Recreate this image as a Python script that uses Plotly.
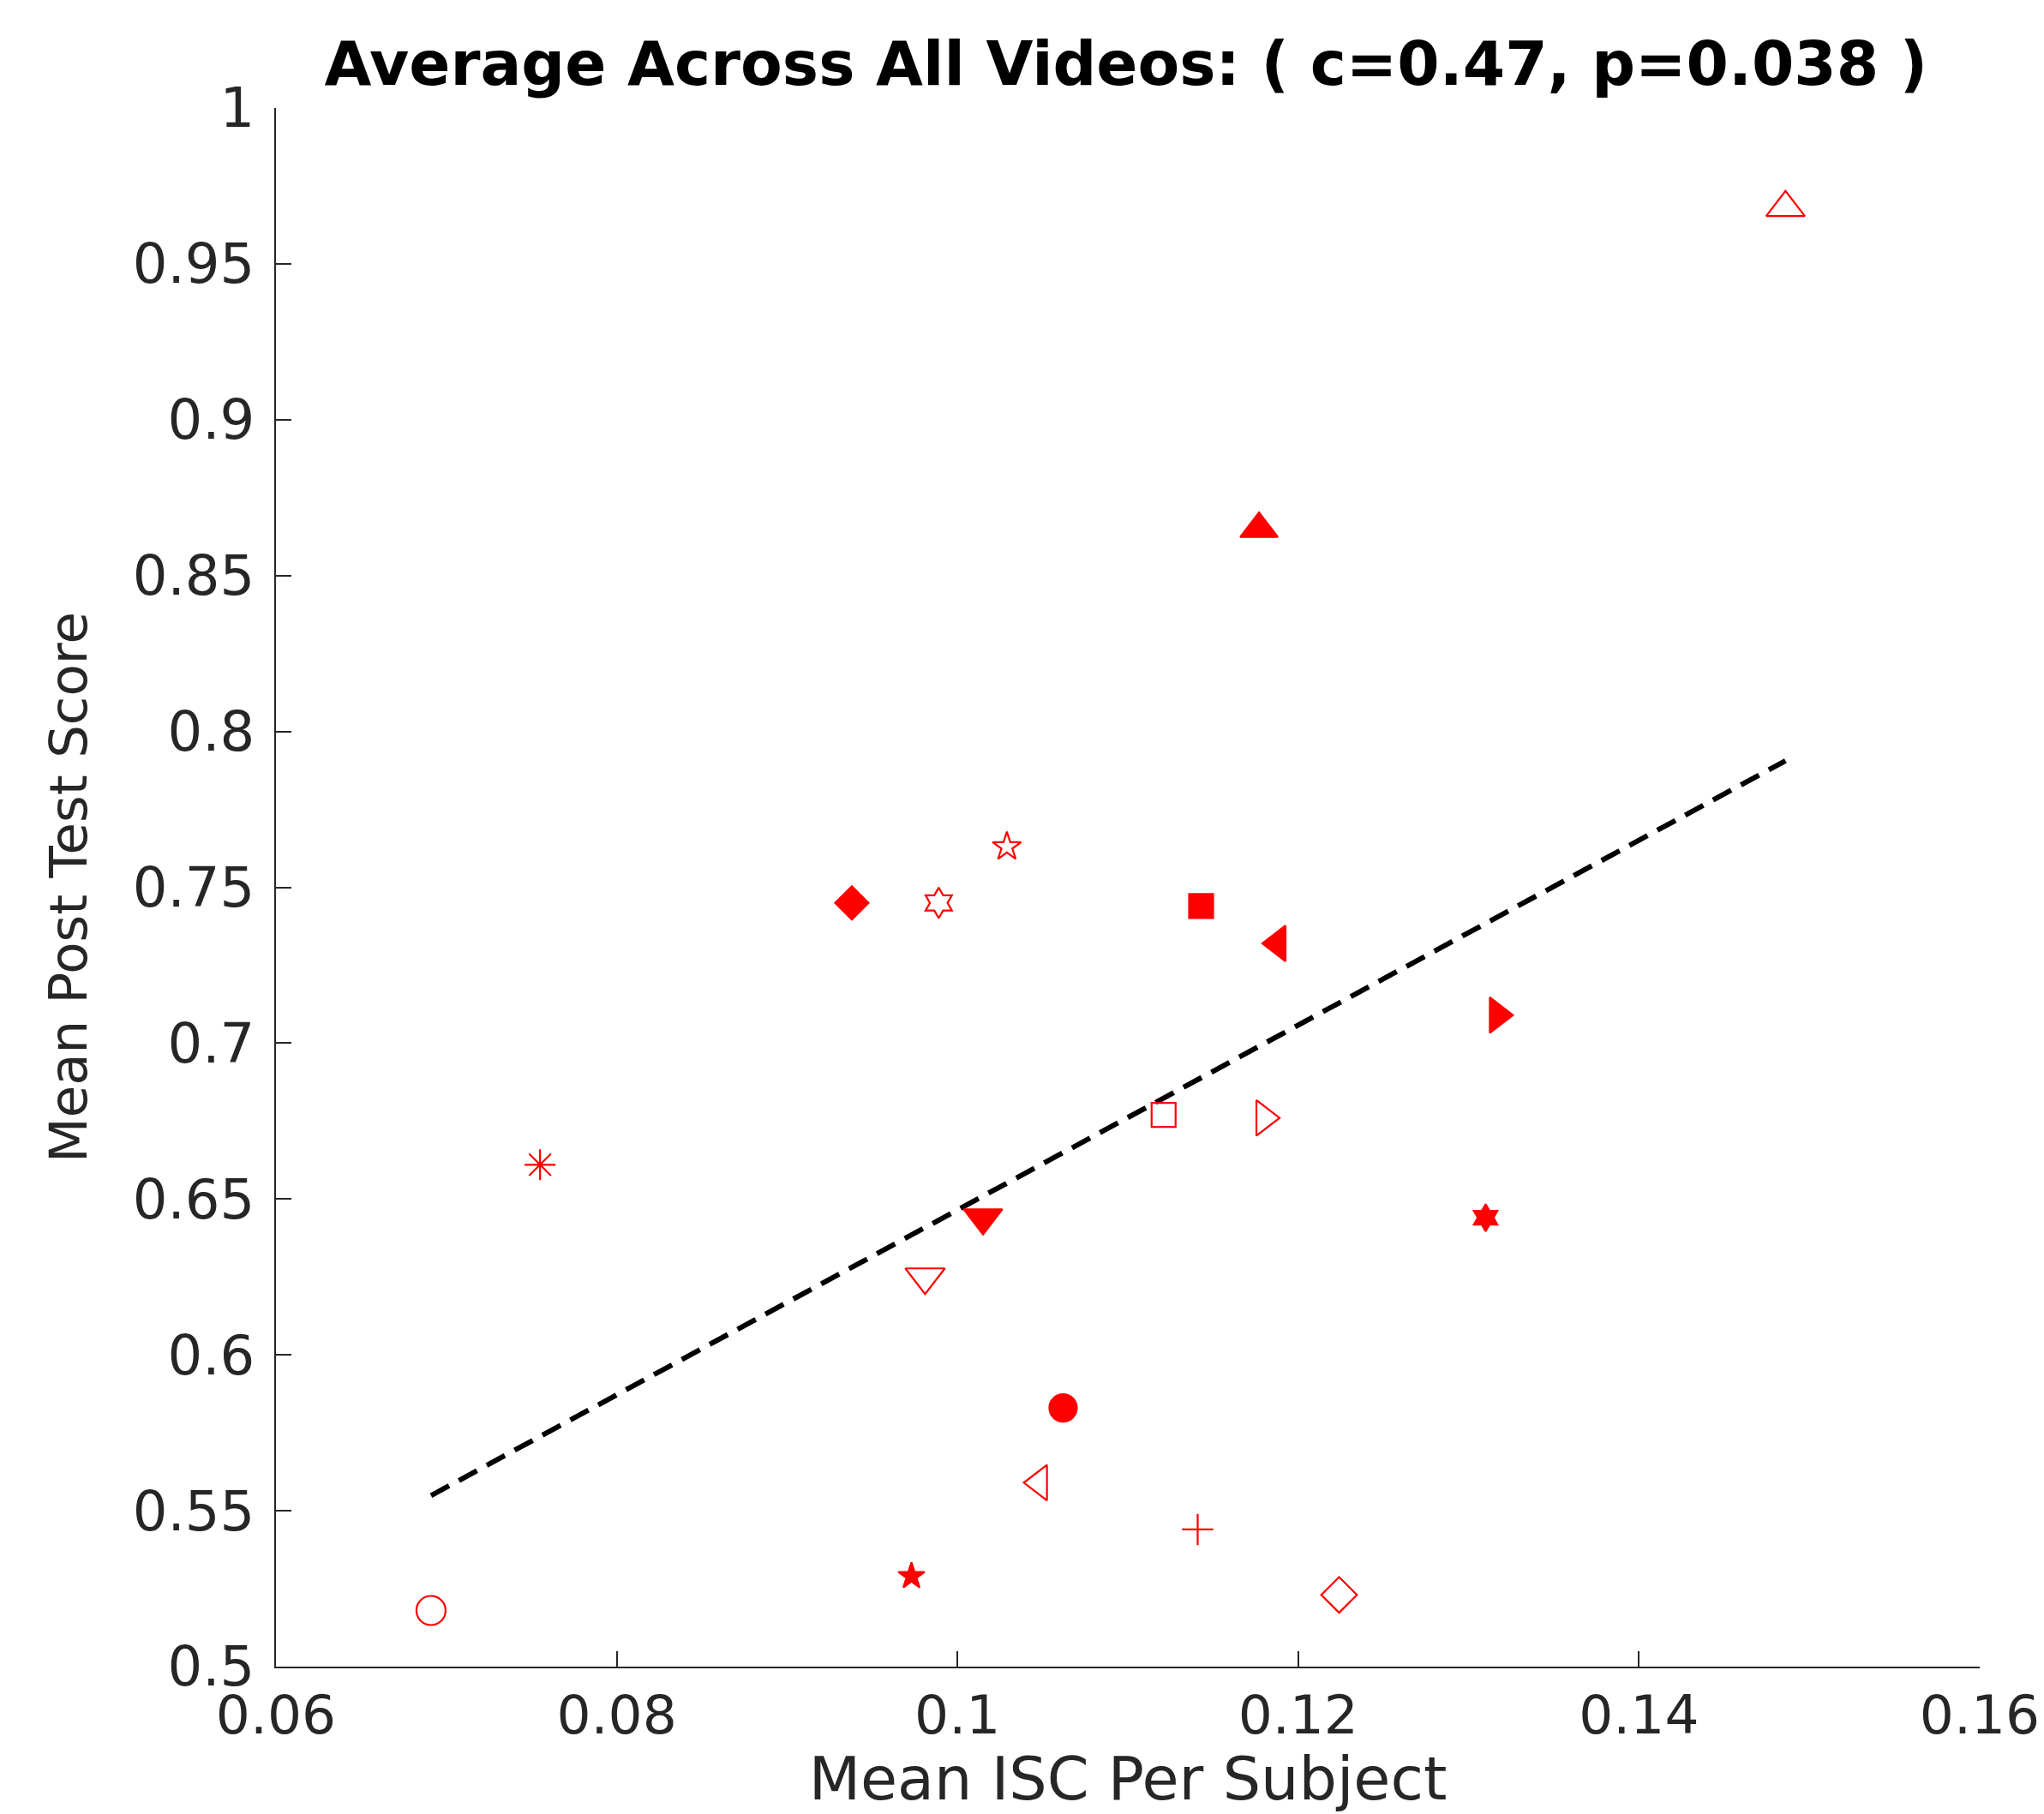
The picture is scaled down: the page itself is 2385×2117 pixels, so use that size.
import numpy as np
import plotly.graph_objects as go

# Data
isc = [0.1486, 0.1177, 0.1029, 0.0938, 0.0989, 0.1143, 0.1188, 0.1317, 0.1121, 0.1180,
       0.0755, 0.1310, 0.1015, 0.0981, 0.1062, 0.1048, 0.1141, 0.0973, 0.1224, 0.0691]
score = [0.968, 0.865, 0.763, 0.745, 0.745, 0.744, 0.732, 0.709, 0.677, 0.676,
         0.661, 0.644, 0.644, 0.625, 0.583, 0.559, 0.544, 0.529, 0.523, 0.518]
symbols = ["triangle-up-open", "triangle-up", "star-open", "diamond", "hexagram-open",
           "square", "triangle-left", "triangle-right", "square-open", "triangle-right-open",
           "asterisk-open", "hexagram", "triangle-down", "triangle-down-open", "circle",
           "triangle-left-open", "cross-thin-open", "star", "diamond-open", "circle-open"]
sizes = [39, 38, 25, 30, 27, 28, 36, 36, 28, 36, 30, 24, 39, 40, 32, 36, 26, 23, 32, 34]

x_ticks = [0.06, 0.08, 0.10, 0.12, 0.14, 0.16]
x_tick_labels = ["0.06", "0.08", "0.1", "0.12", "0.14", "0.16"]
y_ticks = [0.5, 0.55, 0.6, 0.65, 0.7, 0.75, 0.8, 0.85, 0.9, 0.95, 1.0]
y_tick_labels = ["0.5", "0.55", "0.6", "0.65", "0.7", "0.75", "0.8", "0.85", "0.9", "0.95", "1"]

# least-squares fit line across the data range
slope, intercept = np.polyfit(isc, score, 1)
fit_x = np.array([min(isc), max(isc)])
fit_y = slope * fit_x + intercept

fig = go.Figure()
fig.add_trace(go.Scatter(
    x=fit_x, y=fit_y, mode="lines",
    line=dict(color="black", width=6, dash="24px,13px"),
    showlegend=False, hoverinfo="skip"))
fig.add_trace(go.Scatter(
    x=isc, y=score, mode="markers",
    marker=dict(symbol=symbols, size=sizes, color="#ff0000", opacity=1,
                line=dict(color="#ff0000", width=2.2)),
    showlegend=False))

font = "DejaVu Sans, Arial, sans-serif"
# page body has an 8px margin; figure is sized/offset to compensate
fig.update_layout(
    width=2377, height=2109,
    margin=dict(l=314, r=75, t=118, b=172),
    paper_bgcolor="white", plot_bgcolor="white",
    title=dict(text="<b>Average Across All Videos: ( c=0.47, p=0.038 )</b>",
               x=0.5494, xanchor="center", y=0.9687, yanchor="middle",
               font=dict(family=font, size=71, color="black")),
    font=dict(family=font, color="#262626"),
)
fig.update_xaxes(
    range=[0.06, 0.16], tickvals=x_ticks, ticktext=x_tick_labels,
    showgrid=False, zeroline=False, showline=True, linecolor="#262626", linewidth=2,
    ticks="inside", ticklen=18, tickwidth=2, tickcolor="#262626",
    tickfont=dict(family=font, size=63, color="#262626"),
    title=dict(text="Mean ISC Per Subject", font=dict(family=font, size=70, color="#262626"),
               standoff=26),
    automargin=False, mirror=False,
)
fig.update_yaxes(
    range=[0.5, 1.0], tickvals=y_ticks, ticktext=y_tick_labels,
    showgrid=False, zeroline=False, showline=True, linecolor="#262626", linewidth=2,
    ticks="inside", ticklen=18, tickwidth=2, tickcolor="#262626",
    ticklabelstandoff=10,
    tickfont=dict(family=font, size=64, color="#262626"),
    title=dict(text="Mean Post Test Score", font=dict(family=font, size=61, color="#262626"),
               standoff=33),
    automargin=False, mirror=False,
)
fig.write_html("out.html")
